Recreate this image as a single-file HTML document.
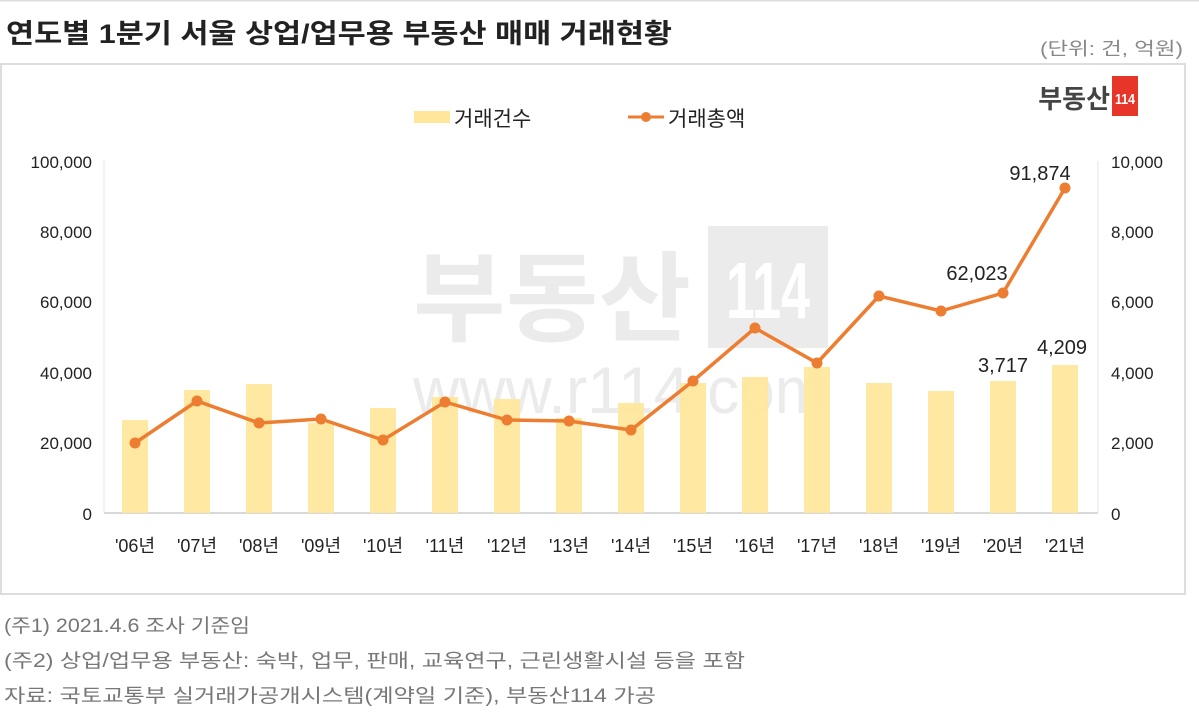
<!DOCTYPE html>
<html><head><meta charset="utf-8"><style>
body{margin:0;background:#fff;width:1199px;height:721px;overflow:hidden;font-family:"Liberation Sans","Noto Sans CJK KR",sans-serif}
</style></head><body>
<svg width="1199" height="721" xmlns="http://www.w3.org/2000/svg" font-family="Liberation Sans, Noto Sans CJK KR, sans-serif">
<rect x="0" y="0" width="1199" height="1.5" fill="#ddd"/>
<text x="6" y="43" font-size="27" font-weight="bold" fill="#222" textLength="666" lengthAdjust="spacingAndGlyphs">연도별 1분기 서울 상업/업무용 부동산 매매 거래현황</text>
<text x="1183" y="55" font-size="18" fill="#888" text-anchor="end" textLength="143" lengthAdjust="spacingAndGlyphs">(단위: 건, 억원)</text>
<rect x="1" y="64" width="1184" height="530" fill="none" stroke="#ddd" stroke-width="2"/>
<!-- logo -->
<text x="1110" y="108" font-size="26" font-weight="bold" fill="#444" text-anchor="end">부동산</text>
<rect x="1112" y="76" width="26" height="40" fill="#e8352a"/>
<text x="1125" y="104" font-size="15" fill="#fff" text-anchor="middle" font-weight="bold" textLength="20" lengthAdjust="spacingAndGlyphs">114</text>
<!-- watermark -->
<text x="413" y="333" font-size="98" font-weight="bold" fill="#ebebeb" textLength="278" lengthAdjust="spacingAndGlyphs">부동산</text>
<rect x="708" y="226" width="120" height="122" fill="#ebebeb"/>
<text x="768" y="318" font-size="80" fill="#fff" text-anchor="middle" font-weight="bold" textLength="84" lengthAdjust="spacingAndGlyphs">114</text>
<text x="413" y="413" font-size="66" fill="#ebebeb" textLength="415" lengthAdjust="spacingAndGlyphs">www.r114.com</text>
<!-- legend -->
<rect x="414" y="111" width="36" height="12" fill="#ffe699"/>
<text x="454" y="126" font-size="21" fill="#222">거래건수</text>
<line x1="628" y1="117" x2="664" y2="117" stroke="#ed7d31" stroke-width="3"/>
<circle cx="646" cy="117" r="5" fill="#ed7d31"/>
<text x="668" y="126" font-size="21" fill="#222">거래총액</text>
<!-- axes labels -->
<g font-size="17" fill="#222" text-anchor="end">
<text x="92" y="168">100,000</text><text x="92" y="238">80,000</text><text x="92" y="308">60,000</text><text x="92" y="379">40,000</text><text x="92" y="449">20,000</text><text x="92" y="520">0</text>
</g>
<g font-size="17" fill="#222" text-anchor="start">
<text x="1111" y="168">10,000</text><text x="1111" y="238">8,000</text><text x="1111" y="308">6,000</text><text x="1111" y="379">4,000</text><text x="1111" y="449">2,000</text><text x="1111" y="520">0</text>
</g>
<line x1="104" y1="513" x2="1098" y2="513" stroke="#d9d9d9" stroke-width="2"/>
<line x1="104" y1="161" x2="104" y2="513" stroke="#e5e5e5" stroke-width="1"/>
<line x1="1098" y1="161" x2="1098" y2="513" stroke="#e5e5e5" stroke-width="1"/>
<!-- bars -->
<g fill="#ffe699" fill-opacity="0.92">
<rect x="122" y="420" width="26" height="93"/>
<rect x="184" y="390" width="26" height="123"/>
<rect x="246" y="384" width="26" height="129"/>
<rect x="308" y="423" width="26" height="90"/>
<rect x="370" y="408" width="26" height="105"/>
<rect x="432" y="397" width="26" height="116"/>
<rect x="494" y="399" width="26" height="114"/>
<rect x="556" y="418" width="26" height="95"/>
<rect x="618" y="403" width="26" height="110"/>
<rect x="680" y="383" width="26" height="130"/>
<rect x="742" y="377" width="26" height="136"/>
<rect x="804" y="367" width="26" height="146"/>
<rect x="866" y="383" width="26" height="130"/>
<rect x="928" y="391" width="26" height="122"/>
<rect x="990" y="381" width="26" height="132"/>
<rect x="1052" y="365" width="26" height="148"/>
</g>
<polyline fill="none" stroke="#ed7d31" stroke-width="3.5" points="135,443 197,401 259,423 321,419 383,440 445,402 507,420 569,421 631,430 693,381 755,328 817,363 879,296 941,311 1003,293 1065,188"/>
<g fill="#ed7d31">
<circle cx="135" cy="443" r="5.5"/><circle cx="197" cy="401" r="5.5"/><circle cx="259" cy="423" r="5.5"/><circle cx="321" cy="419" r="5.5"/><circle cx="383" cy="440" r="5.5"/><circle cx="445" cy="402" r="5.5"/><circle cx="507" cy="420" r="5.5"/><circle cx="569" cy="421" r="5.5"/><circle cx="631" cy="430" r="5.5"/><circle cx="693" cy="381" r="5.5"/><circle cx="755" cy="328" r="5.5"/><circle cx="817" cy="363" r="5.5"/><circle cx="879" cy="296" r="5.5"/><circle cx="941" cy="311" r="5.5"/><circle cx="1003" cy="293" r="5.5"/><circle cx="1065" cy="188" r="5.5"/>
</g>
<g font-size="20" fill="#222" text-anchor="middle">
<text x="1040" y="180">91,874</text>
<text x="977" y="280">62,023</text>
<text x="1003" y="372">3,717</text>
<text x="1062" y="354">4,209</text>
</g>
<g font-size="18" fill="#222" text-anchor="middle">
<text x="135" y="552">'06년</text><text x="197" y="552">'07년</text><text x="259" y="552">'08년</text><text x="321" y="552">'09년</text><text x="383" y="552">'10년</text><text x="445" y="552">'11년</text><text x="507" y="552">'12년</text><text x="569" y="552">'13년</text><text x="631" y="552">'14년</text><text x="693" y="552">'15년</text><text x="755" y="552">'16년</text><text x="817" y="552">'17년</text><text x="879" y="552">'18년</text><text x="941" y="552">'19년</text><text x="1003" y="552">'20년</text><text x="1065" y="552">'21년</text>
</g>
<g font-size="19" fill="#777">
<text x="4" y="632" textLength="246" lengthAdjust="spacingAndGlyphs">(주1) 2021.4.6 조사 기준임</text>
<text x="4" y="667" textLength="741" lengthAdjust="spacingAndGlyphs">(주2) 상업/업무용 부동산: 숙박, 업무, 판매, 교육연구, 근린생활시설 등을 포함</text>
<text x="4" y="702" textLength="652" lengthAdjust="spacingAndGlyphs">자료: 국토교통부 실거래가공개시스템(계약일 기준), 부동산114 가공</text>
</g>
</svg>
</body></html>
